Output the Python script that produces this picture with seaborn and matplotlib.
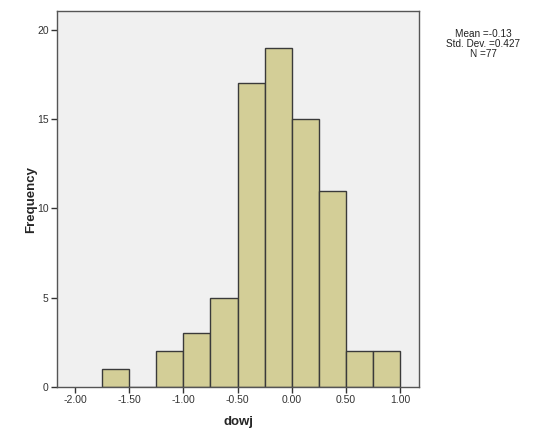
import numpy as np
import matplotlib
matplotlib.use("Agg")
import matplotlib.pyplot as plt
import seaborn as sns

bin_edges = [-1.75, -1.50, -1.25, -1.00, -0.75, -0.50, -0.25, 0.00, 0.25, 0.50, 0.75, 1.00]
counts = [1, 0, 2, 3, 5, 17, 19, 15, 11, 2, 2]
x_ticks = [-2.0, -1.5, -1.0, -0.5, 0.0, 0.5, 1.0]
y_ticks = [0, 5, 10, 15, 20]
stats_text = "Mean =-0.13\nStd. Dev. =0.427\nN =77"

centers = [(a + b) / 2 for a, b in zip(bin_edges[:-1], bin_edges[1:])]

sns.set_style("ticks")
plt.rcParams["font.family"] = ["Liberation Sans", "DejaVu Sans"]

fig = plt.figure(figsize=(5.6, 4.48), dpi=100)
ax = fig.add_axes([57 / 560, 61 / 448, 362 / 560, 376 / 448])
ax.set_facecolor("#f0f0f0")

sns.histplot(x=centers, weights=counts, bins=bin_edges, ax=ax,
             color="#d3ce97", alpha=1, edgecolor="#3a3a3a", linewidth=1.0)

ax.set_xlim(-2.166, 1.175)
ax.set_ylim(0, 21.06)
ax.set_xticks(x_ticks)
ax.set_xticklabels([f"{t:.2f}" for t in x_ticks])
ax.set_yticks(y_ticks)
ax.tick_params(axis="both", direction="out", length=4, width=1, color="#333333",
               labelsize=7.5, labelcolor="#333333", pad=2)
for s in ax.spines.values():
    s.set_color("#555555")
    s.set_linewidth(1.0)

ax.set_xlabel("dowj", fontsize=9.5, fontweight="bold", labelpad=8)
ax.set_ylabel("Frequency", fontsize=9.5, fontweight="bold", labelpad=0)

fig.text(483 / 560, 1 - 29 / 448, stats_text, ha="center", va="top",
         fontsize=7.2, color="#222222", linespacing=1.0)

plt.savefig("out.png", dpi=100)
plt.close()
